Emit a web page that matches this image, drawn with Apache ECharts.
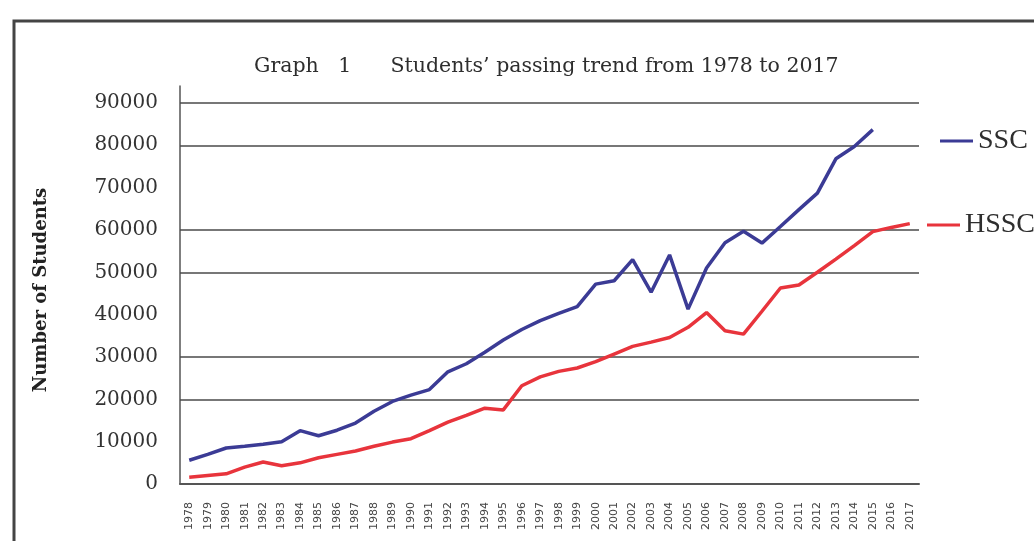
<!DOCTYPE html>
<html>
<head>
<meta charset="utf-8">
<script src="https://cdn.jsdelivr.net/npm/echarts@6/dist/echarts.min.js"></script>
<style>
html,body{margin:0;padding:0;background:#fff;}
#chart{width:1034px;height:541px;}
</style>
</head>
<body>
<div id="chart"></div>
<script>
var years = ['1978','1979','1980','1981','1982','1983','1984','1985','1986','1987',
             '1988','1989','1990','1991','1992','1993','1994','1995','1996','1997',
             '1998','1999','2000','2001','2002','2003','2004','2005','2006','2007',
             '2008','2009','2010','2011','2012','2013','2014','2015','2016','2017'];

var sscValues = [5600, 7000, 8500, 8900, 9400, 10000, 12600, 11400, 12700, 14400,
                 17200, 19500, 21000, 22300, 26500, 28400, 31100, 34000, 36500, 38600,
                 40300, 41900, 47200, 48000, 53000, 45300, 54100, 41300, 51000, 57000,
                 59700, 56900, 60800, 64800, 68700, 76800, 79700, 83700, null, null];

var hsscValues = [1600, 2000, 2400, 4000, 5200, 4300, 5000, 6200, 7000, 7800,
                  8900, 9900, 10700, 12600, 14600, 16200, 17900, 17500, 23200, 25300,
                  26600, 27400, 28900, 30700, 32500, 33500, 34600, 37000, 40500, 36200,
                  35400, 40800, 46300, 47000, 50000, 53100, 56300, 59600, 60600, 61500];

var gridValues = [20000, 30000, 50000, 60000, 80000, 90000];

var chart = echarts.init(document.getElementById('chart'), null, {renderer: 'canvas'});

var option = {
  backgroundColor: '#ffffff',
  animation: false,
  title: {
    text: 'Graph   1      Students\u2019 passing trend from 1978 to 2017',
    left: 254,
    top: 56,
    padding: 0,
    textStyle: {fontFamily: 'DejaVu Serif', fontSize: 20.5, fontWeight: 'normal', color: '#2e2e2e'}
  },
  graphic: [{
    type: 'rect',
    silent: true,
    shape: {x: 14, y: 21, width: 1100, height: 600},
    style: {fill: 'none', stroke: '#444', lineWidth: 3}
  }],
  legend: [{
    data: ['SSC'],
    left: 940, top: 127, padding: 0,
    itemWidth: 33, itemHeight: 3, icon: 'rect',
    textStyle: {fontFamily: 'Liberation Serif', fontSize: 28, color: '#2e2e2e'}
  }, {
    data: ['HSSC'],
    left: 927, top: 211, padding: 0,
    itemWidth: 33, itemHeight: 3, icon: 'rect',
    textStyle: {fontFamily: 'Liberation Serif', fontSize: 28, color: '#2e2e2e'}
  }],
  grid: {left: 180, right: 115, top: 86, bottom: 57, containLabel: false},
  xAxis: {
    type: 'category',
    data: years,
    boundaryGap: true,
    axisLine: {lineStyle: {color: '#555', width: 2}},
    axisTick: {show: false},
    axisLabel: {rotate: 90, margin: 18, interval: 0, fontFamily: 'DejaVu Sans', fontSize: 11, color: '#444'},
    splitLine: {show: false}
  },
  yAxis: {
    type: 'value',
    min: 0, max: 94000, interval: 10000,
    name: 'Number of Students',
    nameLocation: 'middle',
    nameGap: 130,
    nameTextStyle: {fontFamily: 'DejaVu Serif', fontSize: 18, fontWeight: 'bold', color: '#222', padding: [0, 10, 0, 0]},
    axisLine: {show: true, lineStyle: {color: '#555', width: 1.5}},
    axisTick: {show: false},
    splitLine: {show: false},
    axisLabel: {
      showMaxLabel: false, margin: 22,
      fontFamily: 'DejaVu Serif', fontSize: 20, color: '#333',
      formatter: function (v) { return String(v); }
    }
  },
  series: [{
    name: 'SSC',
    type: 'line',
    data: sscValues,
    symbol: 'none',
    z: 3,
    lineStyle: {color: '#3b3b95', width: 3.5},
    itemStyle: {color: '#3b3b95'},
    markLine: {
      silent: true,
      z: 1,
      symbol: ['none', 'none'],
      label: {show: false},
      lineStyle: {color: '#4a4a4a', width: 1.5, type: 'solid'},
      data: gridValues.map(function (v) { return {yAxis: v}; })
    }
  }, {
    name: 'HSSC',
    type: 'line',
    data: hsscValues,
    symbol: 'none',
    z: 3,
    lineStyle: {color: '#e8343c', width: 3.5},
    itemStyle: {color: '#e8343c'}
  }]
};
chart.setOption(option);
</script>
</body>
</html>
